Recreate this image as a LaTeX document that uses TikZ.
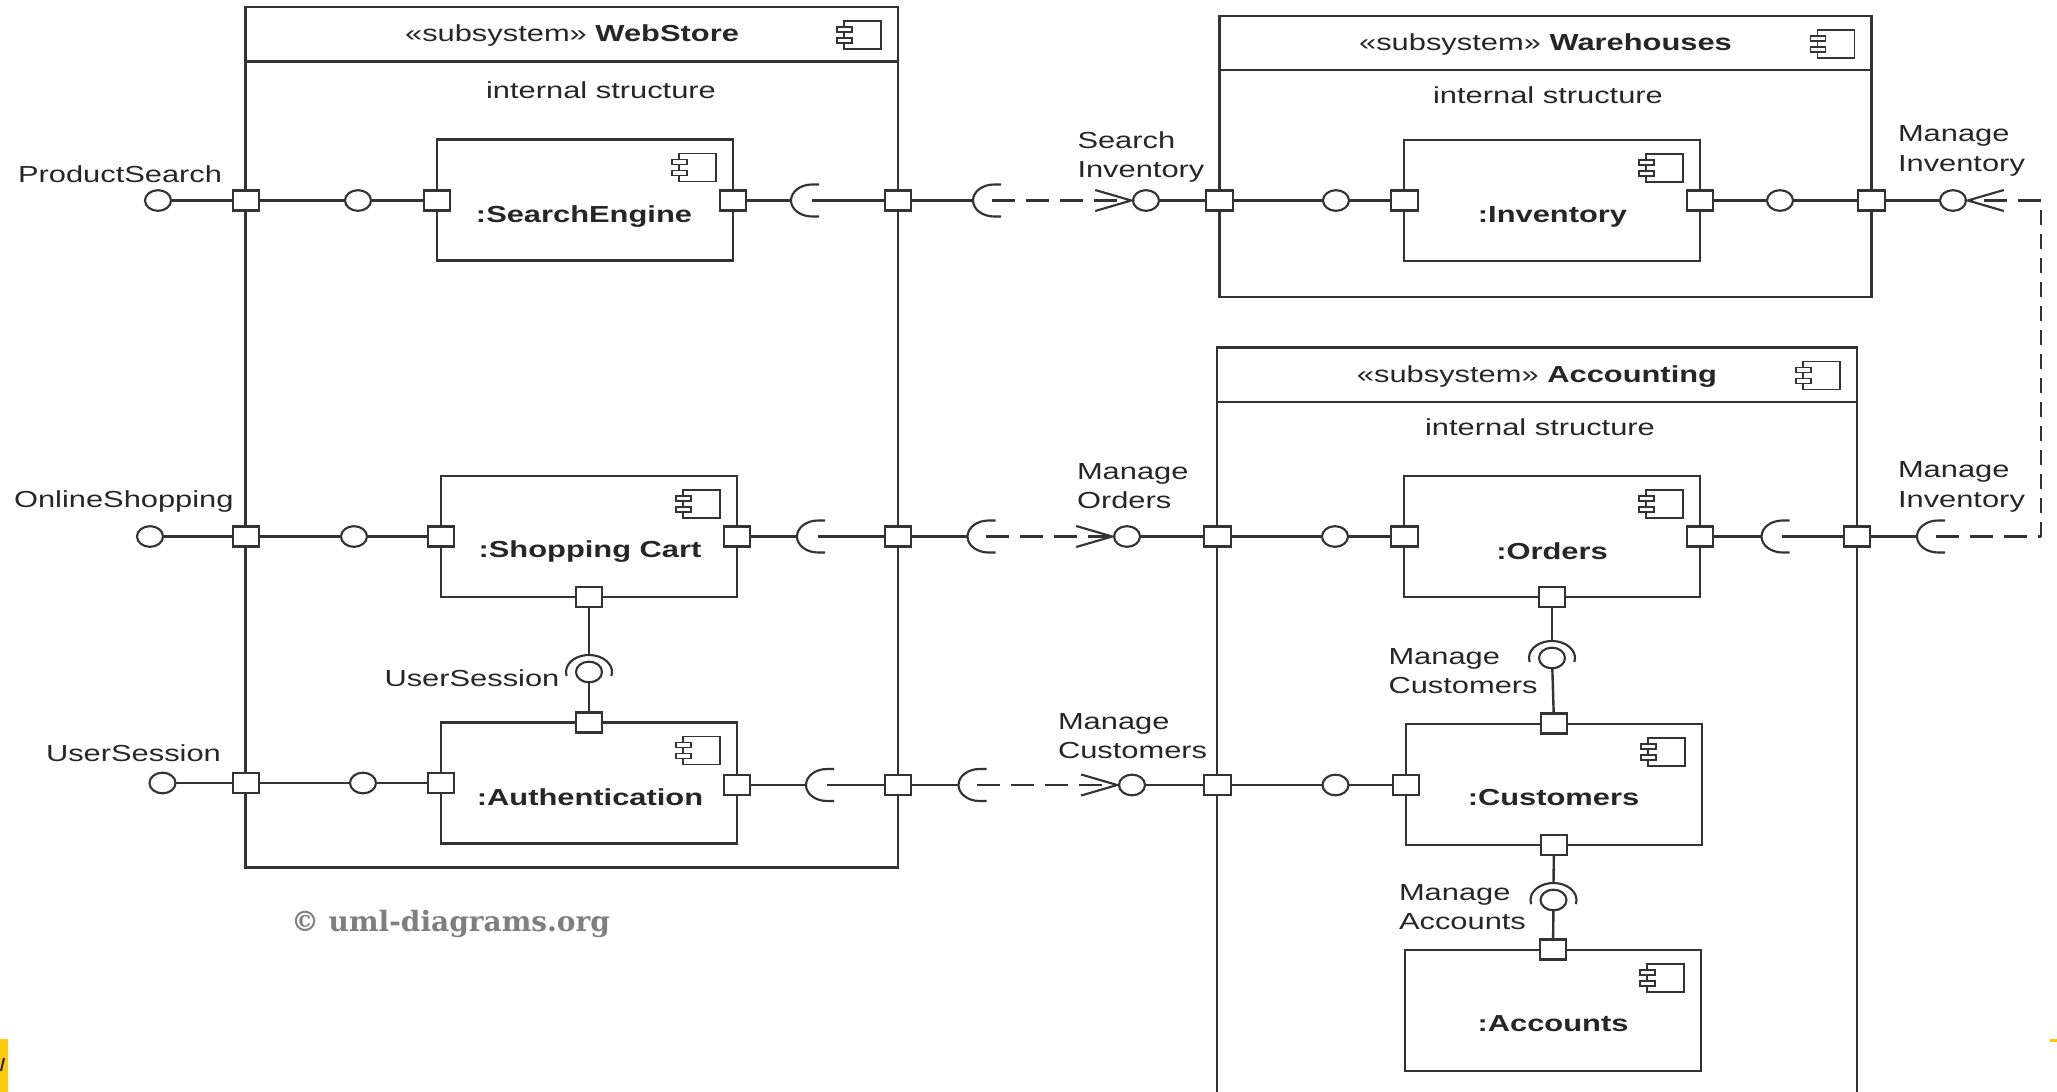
\documentclass[tikz,border=0pt]{standalone}
\usepackage{fontspec}
\usepackage{tikz}
\usepackage{xcolor}
\usetikzlibrary{shapes.geometric, arrows.meta}
\setmainfont[FakeStretch=1.33]{Liberation Sans}
\newfontfamily\stampfont{DejaVu Serif}
\definecolor{inkline}{HTML}{333333}
\definecolor{inktext}{HTML}{262626}
\definecolor{stampgray}{HTML}{7F7F7F}
\definecolor{tabyellow}{HTML}{FFC90E}
\tikzset{
    every node/.style={font=\fontsize{17.4}{22}\selectfont, text=inktext, inner sep=0pt, outer sep=0pt},
    subsys/.style={draw=inkline, line width=1.7pt},
    comp/.style={draw=inkline, line width=1.7pt, minimum width=222pt, minimum height=90.75pt},
    port/.style={draw=inkline, fill=white, line width=1.7pt, minimum width=20pt, minimum height=15pt},
    ball/.style={draw=inkline, fill=white, line width=1.6pt, ellipse, minimum width=19.5pt, minimum height=15.5pt},
    txt/.style={anchor=west, align=left},
    wire/.style={draw=inkline, line width=1.8pt},
    dashh/.style={draw=inkline, line width=1.6pt, dash pattern=on 17pt off 8.5pt},
    dashv/.style={draw=inkline, line width=1.6pt, dash pattern=on 11pt off 7pt},
    assembly/.style={dashh, shorten >=-1.5pt, -{Straight Barb[length=27pt,width=15.75pt]}},
    %pics drop the picture's flip, so up is positive in here
    compicon/.pic={
        \draw[line width=1.4pt, draw=inkline] (-54,-14) rectangle (-17,-42);
        \draw[line width=1.4pt, draw=inkline, fill=white] (-61,-20) rectangle (-46,-25);
        \draw[line width=1.4pt, draw=inkline, fill=white] (-61,-31) rectangle (-46,-36);
    },
    socket/.pic={
        \draw[line width=1.6pt, draw=inkline] (28,16) -- (21,16) arc[start angle=90, delta angle=180, x radius=21, y radius=16] -- (28,-16);
    },
    reqarc/.pic={
        \draw[line width=1.6pt, draw=inkline] (22.3,-4.1) arc[start angle=-14, delta angle=208, x radius=23, y radius=17];
    }
}
\begin{document}
\begin{tikzpicture}[x=0.75pt,y=0.75pt,yscale=-1,xscale=1]
    \path[use as bounding box, clip] (0,0) rectangle (2057,1092);

    %Shape: subsystem frames
    \node[subsys, minimum width=489.4pt, minimum height=645.4pt] (webstore) at (571.75,437.25) {};
    \node[subsys, minimum width=489pt, minimum height=210.75pt] (warehouses) at (1545.5,156.5) {};
    \node[subsys, minimum width=480pt, minimum height=571.9pt] (accounting) at (1537,728.75) {};
    %Straight Lines: header rules
    \draw[wire] (webstore.west |- 0,61.5) -- (webstore.east |- 0,61.5);
    \draw[wire] (warehouses.west |- 0,70) -- (warehouses.east |- 0,70);
    \draw[wire] (accounting.west |- 0,402) -- (accounting.east |- 0,402);
    \pic at (webstore.north east) {compicon};
    \pic at (warehouses.north east) {compicon};
    \pic at (accounting.north east) {compicon};

    % Text Node
    \node (webtitle) at (572,36) {«subsystem» \textbf{WebStore}};
    \node (waretitle) at (1545.5,45) {«subsystem» \textbf{Warehouses}};
    \node (acctitle) at (1537,377) {«subsystem» \textbf{Accounting}};
    \node (webinner) at (601,90) {internal structure};
    \node (wareinner) at (1548,95) {internal structure};
    \node (accinner) at (1540,427) {internal structure};

    %Shape: components
    \node[comp] (searchengine) at (585,200) {};
    \node[comp] (cart) at (589,536.5) {};
    \node[comp] (auth) at (589,783) {};
    \node[comp] (inventory) at (1552.25,200.5) {};
    \node[comp] (orders) at (1552.25,536.5) {};
    \node[comp] (customers) at (1554.25,784.25) {};
    \node[comp] (accounts) at (1553.25,1010.25) {};
    \pic at (searchengine.north east) {compicon};
    \pic at (cart.north east) {compicon};
    \pic at (auth.north east) {compicon};
    \pic at (inventory.north east) {compicon};
    \pic at (orders.north east) {compicon};
    \pic at (customers.north east) {compicon};
    \pic at (accounts.north east) {compicon};

    % Text Node
    \node (searchname) at (584,217) {\textbf{:SearchEngine}};
    \node (cartname) at (590,552) {\textbf{:Shopping Cart}};
    \node (authname) at (590,797) {\textbf{:Authentication}};
    \node (invname) at (1552.5,217) {\textbf{:Inventory}};
    \node (ordname) at (1552,551) {\textbf{:Orders}};
    \node (custname) at (1553.5,798) {\textbf{:Customers}};
    \node (acctname) at (1553,1024) {\textbf{:Accounts}};

    %Shape: ports, first row
    \node[port] (p1a) at (246,200.5) {};
    \node[port] (p1b) at (437,200.5) {};
    \node[port] (p1c) at (733,200.5) {};
    \node[port] (p1d) at (898,200.5) {};
    \node[port] (p1e) at (1219.5,200.5) {};
    \node[port] (p1f) at (1404.5,200.5) {};
    \node[port] (p1g) at (1700,200.5) {};
    \node[port] (p1h) at (1871.5,200.5) {};
    %Shape: ports, second row
    \node[port] (p2a) at (246,536.5) {};
    \node[port] (p2b) at (441,536.5) {};
    \node[port] (p2c) at (737,536.5) {};
    \node[port] (p2d) at (898,536.5) {};
    \node[port] (p2e) at (1217.5,536.5) {};
    \node[port] (p2f) at (1404.5,536.5) {};
    \node[port] (p2g) at (1700,536.5) {};
    \node[port] (p2h) at (1857,536.5) {};
    %Shape: ports, third row
    \node[port] (p3a) at (246,783) {};
    \node[port] (p3b) at (441,783) {};
    \node[port] (p3c) at (737,785) {};
    \node[port] (p3d) at (898,785) {};
    \node[port] (p3e) at (1217.5,785) {};
    \node[port] (p3f) at (1406,785) {};
    %Shape: ports, vertical links
    \node[port] (pcartdown) at (589,597) {};
    \node[port] (pauthup) at (589,722.5) {};
    \node[port] (porddown) at (1552,597) {};
    \node[port] (pcustup) at (1554,723.5) {};
    \node[port] (pcustdown) at (1554,845) {};
    \node[port] (pacctup) at (1553,949.5) {};

    %Shape: balls
    \node[ball] (b1a) at (158,200.5) {};
    \node[ball] (b1b) at (358,200.5) {};
    \node[ball] (b1c) at (1146,200.5) {};
    \node[ball] (b1d) at (1336,200.5) {};
    \node[ball] (b1e) at (1780,200.5) {};
    \node[ball] (b1f) at (1953,200.5) {};
    \node[ball] (b2a) at (150,536.5) {};
    \node[ball] (b2b) at (354,536.5) {};
    \node[ball] (b2c) at (1127,536.5) {};
    \node[ball] (b2d) at (1335,536.5) {};
    \node[ball] (b3a) at (162.5,783) {};
    \node[ball] (b3b) at (363,783) {};
    \node[ball] (b3c) at (1132,785) {};
    \node[ball] (b3d) at (1335.5,785) {};
    \node[ball] (bsession) at (589,672) {};
    \node[ball] (bcust) at (1552,658) {};
    \node[ball] (bacct) at (1553.5,900) {};
    \pic at (bsession) {reqarc};
    \pic at (bcust) {reqarc};
    \pic at (bacct) {reqarc};

    %Shape: sockets
    \coordinate (s1a) at (791,200.5);
    \coordinate (s1ar) at (812,200.5);
    \coordinate (s1b) at (973,200.5);
    \coordinate (s1br) at (992,200.5);
    \coordinate (s2a) at (797,536.5);
    \coordinate (s2ar) at (818,536.5);
    \coordinate (s2b) at (967.5,536.5);
    \coordinate (s2br) at (986,536.5);
    \coordinate (s2c) at (1761.5,536.5);
    \coordinate (s2cr) at (1782,536.5);
    \coordinate (s2d) at (1917,536.5);
    \coordinate (s2dr) at (1936,536.5);
    \coordinate (s3a) at (806,785);
    \coordinate (s3ar) at (827,785);
    \coordinate (s3b) at (958.5,785);
    \coordinate (s3br) at (977,785);
    \pic at (s1a) {socket};
    \pic at (s1b) {socket};
    \pic at (s2a) {socket};
    \pic at (s2b) {socket};
    \pic at (s2c) {socket};
    \pic at (s2d) {socket};
    \pic at (s3a) {socket};
    \pic at (s3b) {socket};
    %the tops of the required arcs
    \coordinate (qsession) at (589,655);
    \coordinate (qcust) at (1552,641);
    \coordinate (qacct) at (1553.5,883);
    %the far corners of the long dashed line
    \coordinate (invlow) at (2041,536.5);
    \coordinate (invhigh) at (2041,200.5);

    %Straight Lines: first row
    \draw[wire] (b1a) -- (p1a);
    \draw[wire] (p1a) -- (b1b);
    \draw[wire] (b1b) -- (p1b);
    \draw[wire] (p1c) -- (s1a);
    \draw[wire] (s1ar) -- (p1d);
    \draw[wire] (p1d) -- (s1b);
    \draw[assembly] (s1br) -- (b1c);
    \draw[wire] (b1c) -- (p1e);
    \draw[wire] (p1e) -- (b1d);
    \draw[wire] (b1d) -- (p1f);
    \draw[wire] (p1g) -- (b1e);
    \draw[wire] (b1e) -- (p1h);
    \draw[wire] (p1h) -- (b1f);
    %Straight Lines: second row
    \draw[wire] (b2a) -- (p2a);
    \draw[wire] (p2a) -- (b2b);
    \draw[wire] (b2b) -- (p2b);
    \draw[wire] (p2c) -- (s2a);
    \draw[wire] (s2ar) -- (p2d);
    \draw[wire] (p2d) -- (s2b);
    \draw[assembly] (s2br) -- (b2c);
    \draw[wire] (b2c) -- (p2e);
    \draw[wire] (p2e) -- (b2d);
    \draw[wire] (b2d) -- (p2f);
    \draw[wire] (p2g) -- (s2c);
    \draw[wire] (s2cr) -- (p2h);
    \draw[wire] (p2h) -- (s2d);
    \draw[dashh] (s2dr) -- (invlow);
    \draw[dashv] (invlow) -- (invhigh);
    \draw[assembly] (invhigh) -- (b1f);
    %Straight Lines: third row
    \draw[wire] (b3a) -- (p3a);
    \draw[wire] (p3a) -- (b3b);
    \draw[wire] (b3b) -- (p3b);
    \draw[wire] (p3c) -- (s3a);
    \draw[wire] (s3ar) -- (p3d);
    \draw[wire] (p3d) -- (s3b);
    \draw[assembly] (s3br) -- (b3c);
    \draw[wire] (b3c) -- (p3e);
    \draw[wire] (p3e) -- (b3d);
    \draw[wire] (b3d) -- (p3f);
    %Straight Lines: vertical links
    \draw[wire] (pcartdown) -- (qsession);
    \draw[wire] (bsession) -- (pauthup);
    \draw[wire] (porddown) -- (qcust);
    \draw[wire] (bcust) -- (pcustup);
    \draw[wire] (pcustdown) -- (qacct);
    \draw[wire] (bacct) -- (pacctup);

    % Text Node
    \node[txt] (lproduct) at (18,174.5) {ProductSearch};
    \node[txt] (lonline) at (14,501) {OnlineShopping};
    \node[txt] (lsessleft) at (46,753) {UserSession};
    \node[txt] (lsessmid) at (384.5,678) {UserSession};
    \node[txt] (lsearchinv) at (1077.5,157) {Search\\Inventory};
    \node[txt] (lmaninv) at (1898,151) {Manage\\Inventory};
    \node[txt] (lmanord) at (1077,486) {Manage\\Orders};
    \node[txt] (lmaninvb) at (1898,487) {Manage\\Inventory};
    \node[txt] (lmancust) at (1058,736) {Manage\\Customers};
    \node[txt] (lmancustb) at (1388.5,671) {Manage\\Customers};
    \node[txt] (lmanacct) at (1399,907) {Manage\\Accounts};
    \node[anchor=west, text=stampgray, font=\stampfont\bfseries\fontsize{21}{24}\selectfont] (stamp) at (291,924) {© uml-diagrams.org};

    %Shape: yellow slivers at the picture's edge
    \fill[tabyellow] (0,1039) rectangle (8,1092);
    \draw[line width=1.5pt, draw=inktext] (4,1058) -- (1,1071);
    \fill[tabyellow] (2050,1039) rectangle (2057,1041.5);
\end{tikzpicture}
\end{document}
